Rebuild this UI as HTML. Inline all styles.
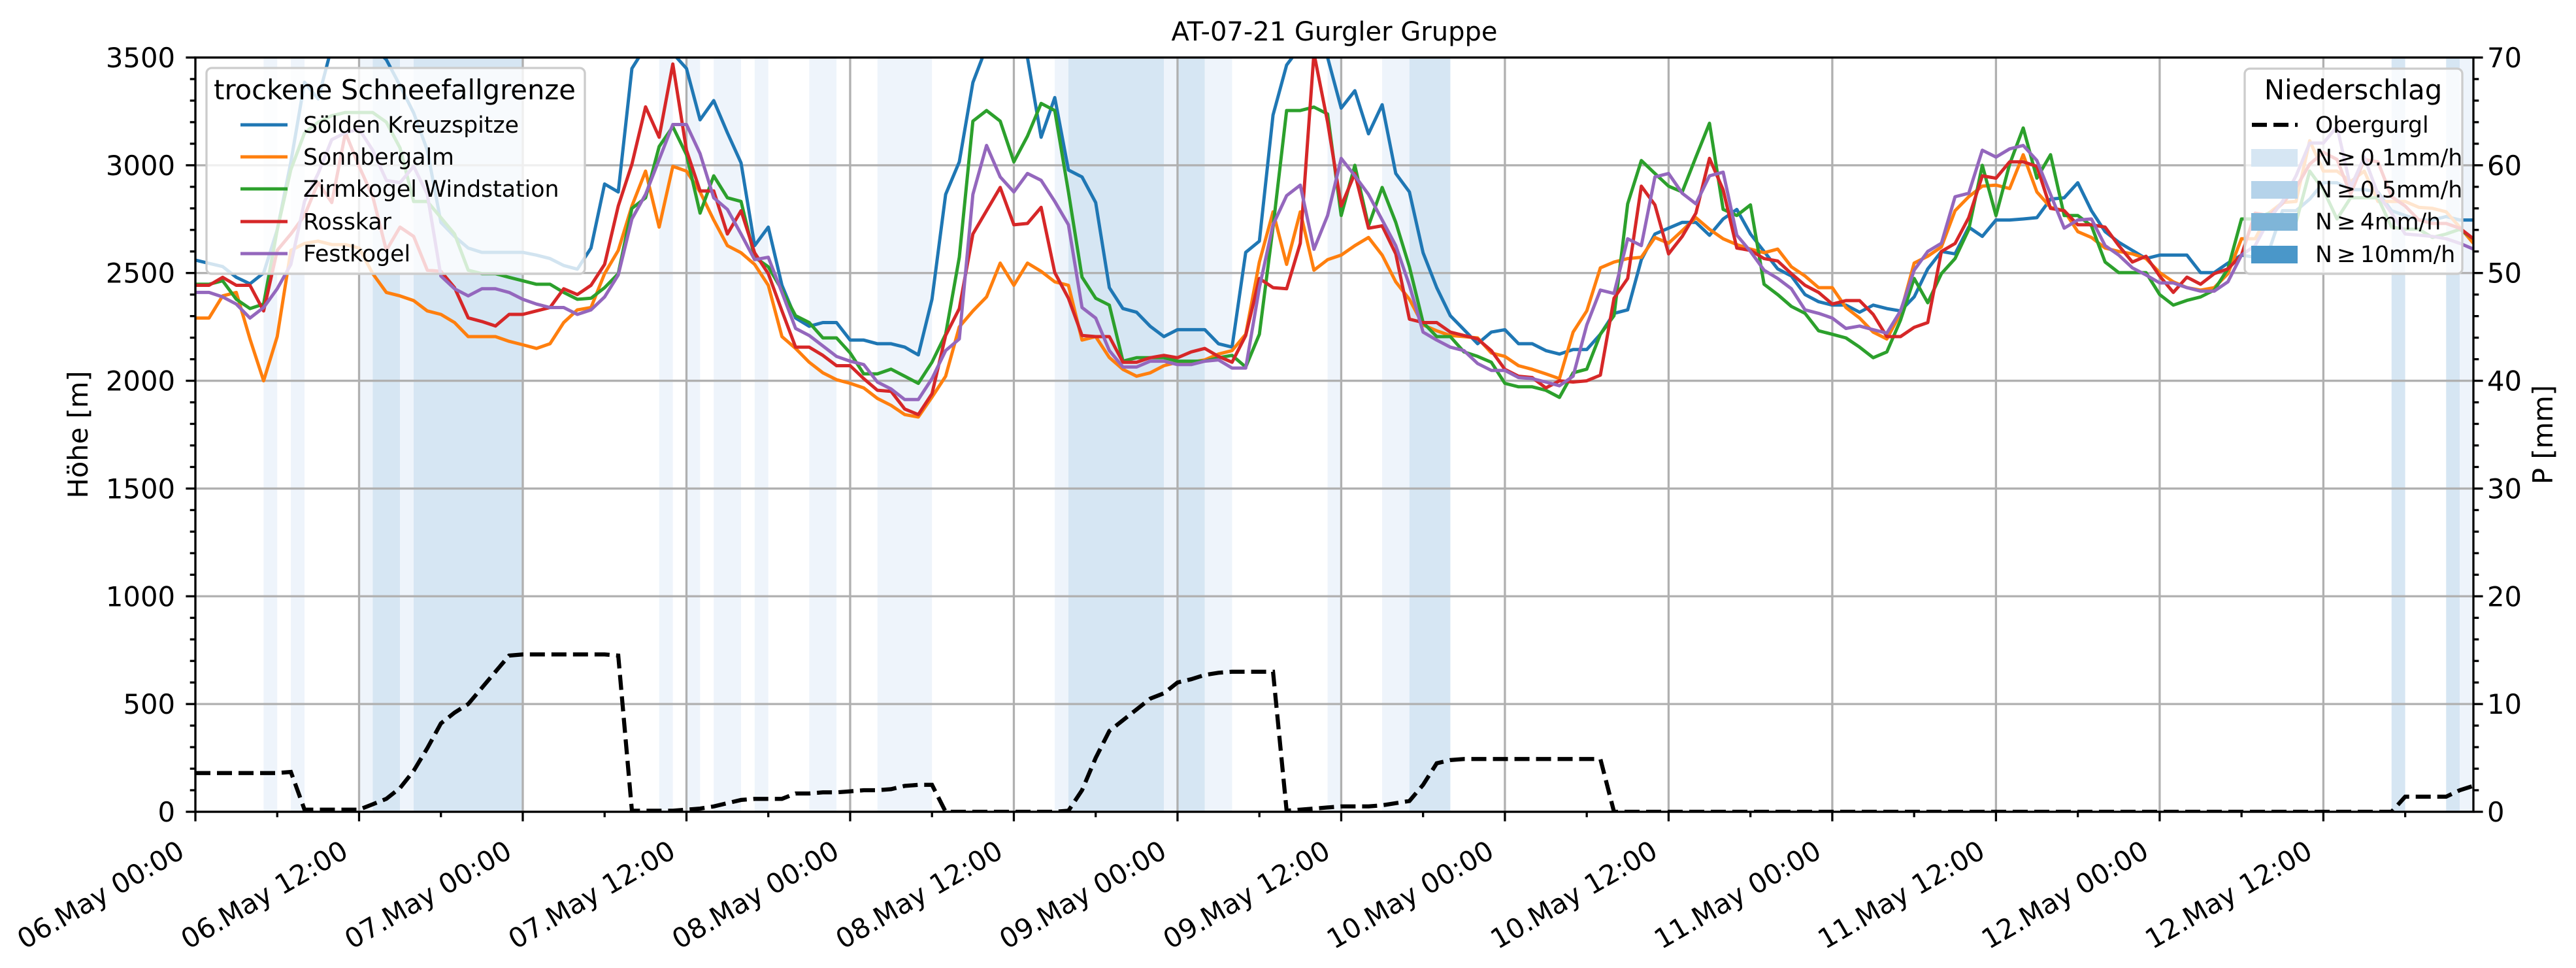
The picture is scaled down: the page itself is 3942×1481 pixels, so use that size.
<!DOCTYPE html>
<html><head><meta charset="utf-8"><title>AT-07-21 Gurgler Gruppe</title>
<style>html,body{margin:0;padding:0;background:#fff;}svg{display:block;}text{font-family:"DejaVu Sans","Liberation Sans",sans-serif;}</style>
</head><body>
<svg id="chart" xmlns="http://www.w3.org/2000/svg" width="3942" height="1481" viewBox="0 0 3942 1481"></svg>
<script>
const categories = ["06.May 00:00","06.May 12:00","07.May 00:00","07.May 12:00","08.May 00:00","08.May 12:00","09.May 00:00","09.May 12:00","10.May 00:00","10.May 12:00","11.May 00:00","11.May 12:00","12.May 00:00","12.May 12:00"];
const leftTicks = [0,500,1000,1500,2000,2500,3000,3500];
const rightTicks = [0,10,20,30,40,50,60,70];
const seriesNames = ["Sölden Kreuzspitze","Sonnbergalm","Zirmkogel Windstation","Rosskar","Festkogel"];
const soelden = [2560,2545,2530,2480,2450,2500,2700,3015,3385,3308,3550,3600,3600,3550,3490,3370,3243,3070,2735,2670,2616,2596,2596,2596,2596,2583,2567,2535,2518,
2616,2913,2876,3449,3550,3600,3520,3449,3211,3300,3151,3011,2627,2713,2443,2291,2253,2270,2270,2189,2189,2172,2172,2156,2120,2378,2865,3016,
3384,3550,3600,3550,3500,3130,3314,2978,2946,2827,2432,2335,2318,2253,2205,2237,2237,2237,2172,2156,2596,2648,3233,3465,3550,3550,3500,
3265,3346,3146,3281,2962,2876,2594,2432,2302,2237,2172,2226,2237,2172,2172,2140,2124,2145,2145,2216,2313,2329,2562,2681,2708,2735,2735,2675,
2751,2795,2681,2600,2519,2486,2400,2367,2351,2351,2318,2351,2335,2324,2389,2519,2600,2589,2713,2670,2746,2746,2751,2757,2843,2849,2919,2789,
2692,2643,2605,2567,2583,2583,2583,2502,2502,2546,2583,2573,2600,2789,2789,2843,2919,2919,2887,2887,2876,2789,2767,2746,2746,2762,2746,2746];
const sonnbergalm = [2291,2291,2394,2410,2194,2000,2205,2605,2637,2648,2632,2632,2616,2497,2410,2394,2372,2324,2308,2270,2205,2205,2205,2183,2167,2150,2172,2270,2329,
2340,2497,2605,2811,2973,2713,2995,2973,2876,2746,2627,2594,2540,2443,2205,2150,2086,2037,2005,1988,1967,1918,1886,1843,1832,1924,2021,2250,
2324,2389,2546,2443,2546,2508,2459,2443,2189,2205,2108,2053,2021,2037,2070,2086,2086,2097,2124,2140,2216,2551,2784,2540,2784,2513,2562,
2583,2627,2665,2583,2459,2378,2259,2232,2210,2205,2199,2129,2113,2070,2053,2032,2010,2226,2324,2524,2551,2567,2573,2665,2638,2697,2757,2703,
2659,2632,2611,2594,2611,2529,2486,2432,2432,2340,2291,2226,2194,2313,2546,2578,2621,2789,2854,2903,2908,2892,3049,2876,2805,2789,2692,2665,
2616,2600,2589,2567,2502,2459,2432,2421,2432,2497,2659,2659,2778,2827,2832,3114,2973,2973,2924,2973,2832,2832,2832,2805,2800,2784,2713,2638];
const zirmkogel = [2448,2448,2464,2378,2335,2356,2700,2980,3150,3200,3230,3245,3245,3245,3200,3081,2832,2832,2757,2681,2513,2497,2497,2480,2464,2448,2448,2410,2378,
2383,2432,2497,2800,2849,3087,3179,3049,2778,2951,2849,2832,2573,2529,2421,2302,2270,2199,2199,2129,2032,2032,2054,2021,1988,2086,2216,2573,
3205,3254,3205,3016,3135,3287,3254,2876,2481,2383,2351,2091,2107,2107,2107,2091,2091,2091,2107,2118,2064,2216,2713,3254,3254,3270,3238,
2767,3000,2719,2897,2735,2529,2270,2205,2205,2134,2113,2086,1988,1972,1972,1956,1923,2037,2054,2216,2302,2821,3022,2962,2903,2876,3038,3195,
2795,2767,2816,2448,2400,2345,2313,2232,2216,2199,2156,2107,2134,2281,2475,2362,2497,2567,2702,3000,2767,3005,3173,2940,3049,2767,2767,2719,
2551,2502,2502,2502,2400,2351,2373,2389,2421,2519,2751,2751,2778,2746,2735,2973,2886,2751,2849,2849,2849,2713,2703,2703,2665,2681,2703,2659];
const rosskar = [2443,2443,2480,2443,2443,2324,2605,2681,2767,2920,2827,3151,2995,2855,2605,2713,2670,2513,2508,2432,2292,2275,2254,2308,2308,2324,2340,2427,2400,
2443,2540,2811,3005,3271,3130,3470,3070,2881,2881,2681,2789,2594,2497,2324,2156,2156,2118,2070,2070,2010,1956,1951,1869,1843,1940,2210,2335,
2681,2789,2897,2724,2730,2805,2502,2383,2210,2205,2205,2086,2086,2107,2118,2107,2134,2150,2113,2086,2210,2475,2432,2427,2638,3520,3200,
2811,2962,2708,2719,2589,2286,2270,2270,2226,2210,2194,2140,2053,2021,2015,1967,2000,1994,2000,2026,2383,2475,2903,2816,2589,2670,2778,3032,
2886,2616,2605,2567,2556,2497,2443,2410,2356,2372,2372,2308,2205,2205,2248,2270,2600,2637,2757,2951,2940,3016,3016,2995,2800,2789,2724,2724,
2713,2627,2551,2578,2486,2410,2481,2448,2497,2519,2583,2778,2767,2822,2897,3005,3060,3027,2865,3027,3016,2854,2811,2746,2730,2730,2708,2659];
const festkogel = [2410,2410,2389,2356,2291,2340,2427,2540,2832,2962,3119,3151,3168,3070,2930,2919,2995,2865,2486,2427,2394,2427,2427,2410,2378,2356,2340,2340,2308,
2329,2389,2491,2751,2865,3027,3189,3189,3054,2849,2795,2681,2562,2573,2410,2243,2210,2162,2113,2091,2075,1994,1962,1913,1913,2010,2140,2194,
2865,3092,2946,2876,2962,2930,2832,2724,2340,2291,2140,2064,2064,2091,2091,2075,2075,2091,2097,2059,2059,2432,2724,2859,2908,2610,2767,
3032,2951,2865,2746,2627,2443,2226,2189,2156,2140,2080,2048,2048,2015,2010,1994,1977,2021,2259,2421,2405,2659,2627,2946,2962,2870,2821,2951,
2968,2676,2600,2513,2475,2427,2329,2313,2291,2243,2254,2237,2221,2324,2513,2600,2638,2854,2870,3070,3038,3076,3092,3022,2865,2708,2746,2751,
2627,2583,2524,2491,2454,2454,2432,2416,2416,2459,2583,2627,2746,2832,2951,3103,3103,3179,2897,3038,2865,2778,2681,2676,2670,2659,2638,2611];
const obergurgl = [3.6,3.6,3.6,3.6,3.6,3.6,3.6,3.7,
0.2,0.2,0.2,0.2,0.2,
0.7,1.2,2.2,3.8,5.9,8.2,9.2,10,11.5,13,14.5,
14.6,14.6,14.6,14.6,14.6,14.6,14.6,14.5,
0.1,0.1,0.1,0.1,0.2,
0.3,0.5,0.8,1.1,1.2,1.2,1.2,
1.7,1.7,1.8,1.8,1.9,2.0,2.0,2.1,2.4,2.5,2.5,
0,0,0,0,0,0,0,0,0,0.1,
2,5,7.5,8.5,9.5,10.5,11,12,12.3,12.7,12.9,13,13,13,13,
0.1,0.2,0.3,0.4,0.5,
0.5,0.5,0.6,0.8,1.0,
2.5,4.5,4.8,4.9,4.9,4.9,4.9,4.9,4.9,4.9,4.9,4.9,4.9,4.9,
0,0,0,0,0,0,0,0,0,0,0,0,0,0,0,0,0,0,0,0,0,0,0,0,0,0,0,0,0,0,0,0,0,0,0,0,0,0,0,0,0,0,0,0,0,0,0,0,0,0,0,0,0,0,0,0,0,
0,1.4,1.4,1.4,1.4,2.0,2.4];
const bandStart = [5,7,12,13,15,16,34,36,38,41,45,50,63,64,71,72,74,83,87,89,161,165,166];
const bandEnd   = [6,8,13,15,16,24,35,37,40,42,47,54,64,71,72,74,76,84,89,92,162,166,167];
const bandLevel = [1,1,1,2,1,2,1,1,1,1,1,1,1,2,1,2,1,1,1,2,2,2,1];

const NS = "http://www.w3.org/2000/svg";
const svg = document.getElementById("chart");
const L = 299, R = 3785, T = 88, B = 1242, HMAX = 167;
const xs = h => L + (R - L) * h / HMAX;
const yL = v => B - (B - T) * v / 3500;
const yR = v => B - (B - T) * v / 70;
const colors = ["#1f77b4","#ff7f0e","#2ca02c","#d62728","#9467bd"];
const bandColors = {1:"#eef4fb",2:"#d6e6f3"};
function mk(tag, attrs, parent) {
  const e = document.createElementNS(NS, tag);
  for (const k in attrs) e.setAttribute(k, attrs[k]);
  (parent || svg).appendChild(e);
  return e;
}
const defs = mk("defs", {});
const cp = mk("clipPath", {id: "plotclip"}, defs);
mk("rect", {x: L, y: T, width: R - L, height: B - T}, cp);

const title = mk("text", {x: (L + R) / 2, y: 62, "text-anchor": "middle", "font-size": 40});
title.textContent = "AT-07-21 Gurgler Gruppe";



const gB = mk("g", {"clip-path": "url(#plotclip)"});


for (let i = 0; i < bandStart.length; i++) {
  const r = mk("rect", {x: xs(bandStart[i]), y: T, width: xs(bandEnd[i]) - xs(bandStart[i]), height: B - T, fill: bandColors[bandLevel[i]]}, gB);
  
  
}

const gG = mk("g", {stroke: "#b0b0b0", "stroke-width": 3.3});


categories.forEach((c, i) => { const x = xs(i * 12); mk("line", {x1: x, x2: x, y1: T, y2: B}, gG); });
leftTicks.forEach(v => { const y = yL(v); mk("line", {x1: L, x2: R, y1: y, y2: y}, gG); });

const allSeries = [soelden, sonnbergalm, zirmkogel, rosskar, festkogel];
const gS = mk("g", {"clip-path": "url(#plotclip)", fill: "none", "stroke-width": 5, "stroke-linejoin": "round"});
allSeries.forEach((s, k) => {
  const p = mk("polyline", {points: s.map((v, h) => xs(h).toFixed(1) + "," + yL(v).toFixed(1)).join(" "), stroke: colors[k]}, gS);
  
  
});
const pr = mk("polyline", {"clip-path": "url(#plotclip)", fill: "none", stroke: "#000", "stroke-width": 6.25, "stroke-dasharray": "23 10", points: obergurgl.map((v, h) => xs(h).toFixed(1) + "," + yR(v).toFixed(1)).join(" ")});



const frame = mk("rect", {x: L, y: T, width: R - L, height: B - T, fill: "none", stroke: "#000", "stroke-width": 3.3});



const gT = mk("g", {stroke: "#000", "stroke-width": 3.3});


for (let v = 0; v <= 3500; v += 100) { const y = yL(v); const len = v % 500 === 0 ? 14.6 : 8.3; mk("line", {x1: L - len, x2: L, y1: y, y2: y}, gT); }
for (let v = 0; v <= 70; v += 2) { const y = yR(v); const len = v % 10 === 0 ? 14.6 : 8.3; mk("line", {x1: R, x2: R + len, y1: y, y2: y}, gT); }
for (let h = 0; h <= HMAX; h += 6) { const x = xs(h); const len = h % 12 === 0 ? 14.6 : 8.3; mk("line", {x1: x, x2: x, y1: B, y2: B + len}, gT); }

leftTicks.forEach(v => {
  const t = mk("text", {x: 268, y: yL(v) + 15, "text-anchor": "end", "font-size": 41.7});
  t.textContent = v;
  
  
});
rightTicks.forEach(v => {
  const t = mk("text", {x: 3806, y: yR(v) + 15, "text-anchor": "start", "font-size": 41.7});
  t.textContent = v;
  
  
});
categories.forEach((c, i) => {
  const x = xs(i * 12) - 14, y = B + 68;
  const t = mk("text", {x: x, y: y, "text-anchor": "end", "font-size": 41.7, transform: "rotate(-30 " + x + " " + y + ")"});
  t.textContent = c;
  
  
});
const yl = mk("text", {x: 0, y: 0, "text-anchor": "middle", "font-size": 41.7, transform: "translate(134 " + (T + B) / 2 + ") rotate(-90)"});
yl.textContent = "Höhe [m]";


const yr = mk("text", {x: 0, y: 0, "text-anchor": "middle", "font-size": 41.7, transform: "translate(3906 " + (T + B) / 2 + ") rotate(-90)"});
yr.textContent = "P [mm]";



const lg1 = mk("g", {});


mk("rect", {x: 316, y: 104, width: 579, height: 315, rx: 8, fill: "#fff", "fill-opacity": 0.8, stroke: "#cccccc", "stroke-width": 3.3}, lg1);
const lt1 = mk("text", {x: 604, y: 152, "text-anchor": "middle", "font-size": 41.7}, lg1);
lt1.textContent = "trockene Schneefallgrenze";


const rows1 = [191, 240, 289, 339, 388];
seriesNames.forEach((n, k) => {
  const g = mk("g", {}, lg1);
  
  
  mk("line", {x1: 368, x2: 440, y1: rows1[k], y2: rows1[k], stroke: colors[k], "stroke-width": 5}, g);
  const t = mk("text", {x: 464, y: rows1[k] + 12, "font-size": 34.7}, g);
  t.textContent = n;
});

const lg2 = mk("g", {});


mk("rect", {x: 3435, y: 105, width: 333, height: 314, rx: 8, fill: "#fff", "fill-opacity": 0.8, stroke: "#cccccc", "stroke-width": 3.3}, lg2);
const lt2 = mk("text", {x: 3601, y: 152, "text-anchor": "middle", "font-size": 41.7}, lg2);
lt2.textContent = "Niederschlag";


const rows2 = [191, 241, 290, 339, 389];
const lab2 = ["Obergurgl", "N\u2009≥\u20090.1mm/h", "N\u2009≥\u20090.5mm/h", "N\u2009≥\u20094mm/h", "N\u2009≥\u200910mm/h"];
const patchCols = ["#d6e6f3", "#b5d3ea", "#7fb5d8", "#4a97c9"];
lab2.forEach((n, k) => {
  const g = mk("g", {}, lg2);
  
  
  if (k === 0) mk("line", {x1: 3446, x2: 3516, y1: rows2[k], y2: rows2[k], stroke: "#000", "stroke-width": 6.25, "stroke-dasharray": "23 10"}, g);
  else mk("rect", {x: 3445, y: rows2[k] - 13, width: 71, height: 27, fill: patchCols[k - 1]}, g);
  const t = mk("text", {x: 3543, y: rows2[k] + 12, "font-size": 34.7}, g);
  t.textContent = n;
});
</script>
</body></html>
